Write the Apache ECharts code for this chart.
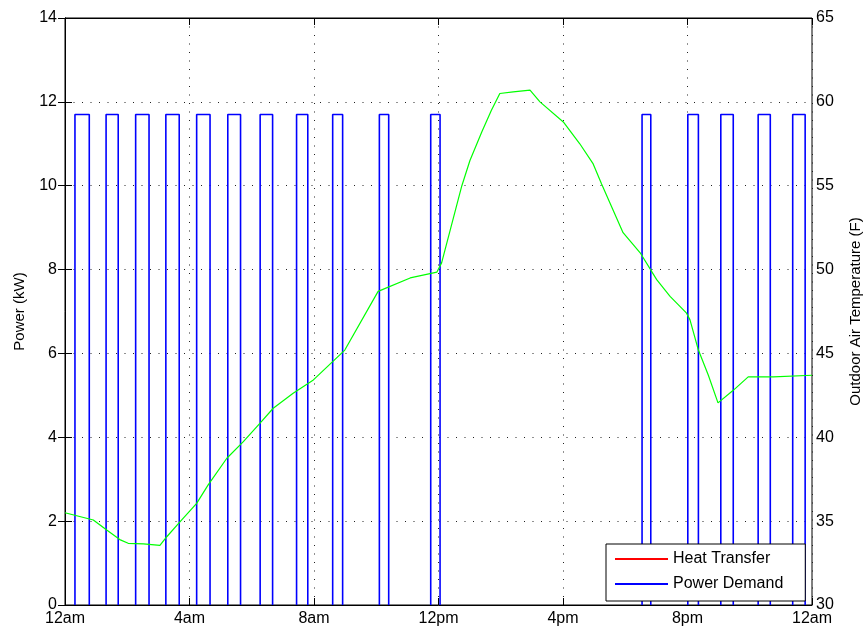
<!DOCTYPE html>
<html>
<head>
<meta charset="utf-8">
<script src="https://cdn.jsdelivr.net/npm/echarts@6/dist/echarts.min.js"></script>
<style>
  html, body { margin: 0; padding: 0; background: #fff; }
  #chart { width: 864px; height: 628px; }
</style>
</head>
<body>
<div id="chart"></div>
<script>
// Hour-of-day tick labels (0..24 in steps of 4)
const hourTicks = [0, 4, 8, 12, 16, 20, 24];
const hourTickLabels = ['12am', '4am', '8am', '12pm', '4pm', '8pm', '12am'];

// Compressor cycles: on/off times (hours) and the power drawn while on (kW)
const pulseOn  = [0.32, 1.32, 2.27, 3.24, 4.23, 5.23, 6.27, 7.44, 8.60, 10.10, 11.75, 18.54, 20.01, 21.07, 22.27, 23.38];
const pulseOff = [0.78, 1.71, 2.70, 3.67, 4.66, 5.64, 6.67, 7.80, 8.92, 10.40, 12.05, 18.82, 20.35, 21.47, 22.66, 23.78];
const pulseLevel = 11.7;

// Heat transfer series (no samples in this run)
const heatTransfer = [];

// Outdoor air temperature (F) over the day
const tempHours = [0, 0.91, 1.34, 1.76, 2.03, 2.52, 3.05, 3.27, 3.70, 4.23, 4.60, 5.20, 5.73, 6.26, 6.69, 7.33, 7.98,
  8.99, 10.06, 11.09, 11.95, 12.10, 12.75, 13.01, 13.39, 13.70, 13.97, 14.40, 14.94, 15.26, 16.01, 16.54, 16.97, 17.24,
  17.93, 18.48, 19.01, 19.44, 19.97, 20.08, 20.35, 20.67, 20.98, 21.47, 21.95, 22.76, 24.0];
const tempValues = [35.5, 35.07, 34.47, 33.9, 33.68, 33.64, 33.56, 34.07, 34.97, 36.06, 37.16, 38.75, 39.74, 40.83, 41.73, 42.62, 43.42,
  45.2, 48.7, 49.5, 49.85, 50.4, 55.0, 56.5, 58.2, 59.5, 60.5, 60.6, 60.7, 60.0, 58.8, 57.5, 56.3, 55.1,
  52.2, 51.0, 49.4, 48.4, 47.4, 47.0, 45.2, 43.7, 42.05, 42.8, 43.6, 43.6, 43.7];

// Square-wave power trace built from the cycle times; the off-periods lie on
// the zero line, so each cycle is drawn as its own segment (break after it)
const powerTrace = [];
pulseOn.forEach((t, i) => {
  powerTrace.push([t, 0], [t, pulseLevel], [pulseOff[i], pulseLevel], [pulseOff[i], 0], [pulseOff[i], '-']);
});

const tempTrace = tempHours.map((h, i) => [h, tempValues[i]]);

const FONT = 'Liberation Sans';
const FS = 16;

const chart = echarts.init(document.getElementById('chart'));
chart.setOption({
  animation: false,
  backgroundColor: '#fff',
  textStyle: { fontFamily: FONT, color: '#000' },
  grid: {
    left: 65, right: 52, top: 18, bottom: 23,
    containLabel: false, outerBoundsMode: 'none',
    show: true, borderColor: '#000', borderWidth: 1
  },
  legend: {
    orient: 'vertical',
    left: 606,
    top: 544,
    padding: [7, 22, 9, 9],
    itemGap: 9,
    itemWidth: 53,
    itemHeight: 2,
    icon: 'rect',
    backgroundColor: '#fff',
    borderColor: '#000',
    borderWidth: 1,
    textStyle: { fontFamily: FONT, fontSize: FS, color: '#000' },
    data: ['Heat Transfer', 'Power Demand']
  },
  xAxis: [{
    type: 'value',
    min: 0,
    max: 24,
    interval: 4,
    axisLine: { lineStyle: { color: '#000', width: 1 } },
    axisTick: { inside: true, length: 7, lineStyle: { color: '#000' } },
    axisLabel: {
      fontFamily: FONT, fontSize: FS, color: '#000', margin: 6,
      formatter: v => hourTickLabels[hourTicks.indexOf(v)]
    },
    splitLine: { show: true, lineStyle: { color: '#222', type: [1, 7.5], width: 1 } }
  }, {
    type: 'value',
    position: 'top',
    min: 0,
    max: 24,
    interval: 4,
    axisLine: { lineStyle: { color: '#000', width: 1 } },
    axisTick: { inside: true, length: 7, lineStyle: { color: '#000' } },
    axisLabel: { show: false },
    splitLine: { show: false }
  }],
  yAxis: [{
    type: 'value',
    min: 0,
    max: 14,
    interval: 2,
    name: 'Power (kW)',
    nameLocation: 'middle',
    nameGap: 38,
    nameTextStyle: { fontFamily: FONT, fontSize: FS - 1, color: '#000' },
    axisLine: { show: true, lineStyle: { color: '#000', width: 1 } },
    axisTick: { show: true, inside: true, length: 7, lineStyle: { color: '#000' } },
    axisLabel: { fontFamily: FONT, fontSize: FS, color: '#000', margin: 8 },
    splitLine: { show: true, lineStyle: { color: '#222', type: [1, 7.5], width: 1 } }
  }, {
    type: 'value',
    position: 'right',
    min: 30,
    max: 65,
    interval: 5,
    name: 'Outdoor Air Temperature (F)',
    nameLocation: 'middle',
    nameGap: 36,
    nameRotate: 90,
    nameTextStyle: { fontFamily: FONT, fontSize: FS - 1, color: '#000' },
    axisLine: { show: true, lineStyle: { color: '#000', width: 1 } },
    axisTick: { show: true, inside: true, length: 7, lineStyle: { color: '#000' } },
    axisLabel: { fontFamily: FONT, fontSize: FS, color: '#000', margin: 4 },
    splitLine: { show: false }
  }],
  series: [{
    name: 'Heat Transfer',
    type: 'line',
    yAxisIndex: 0,
    showSymbol: false,
    color: '#ff0000',
    lineStyle: { width: 1 },
    data: heatTransfer
  }, {
    name: 'Power Demand',
    type: 'line',
    yAxisIndex: 0,
    showSymbol: false,
    connectNulls: false,
    color: '#0000ff',
    lineStyle: { width: 1.6, color: '#0000ff' },
    data: powerTrace
  }, {
    name: 'Temperature',
    type: 'line',
    yAxisIndex: 1,
    showSymbol: false,
    color: '#00ff00',
    lineStyle: { width: 1.2, color: '#00ff00' },
    data: tempTrace
  }]
});
</script>
</body>
</html>
